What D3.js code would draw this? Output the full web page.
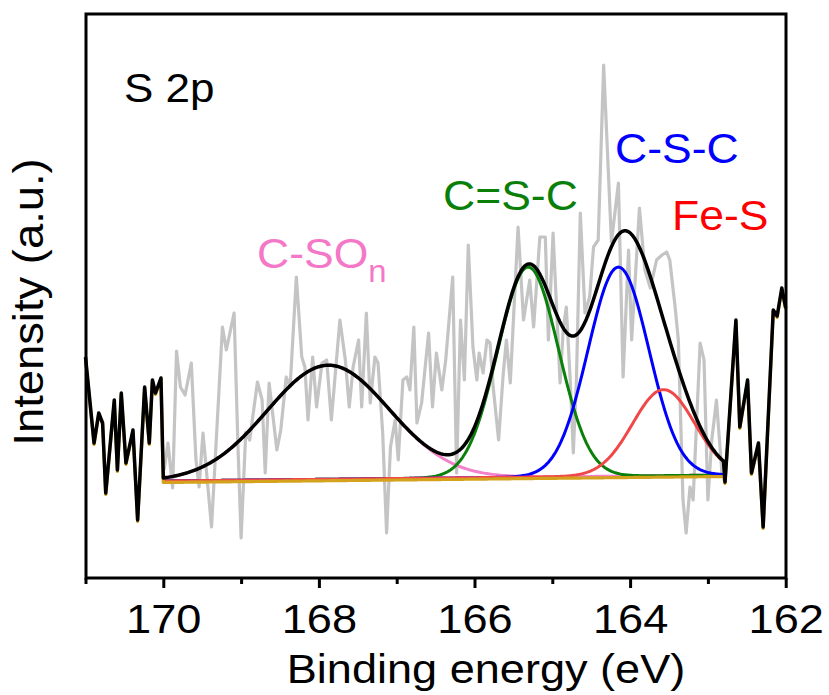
<!DOCTYPE html>
<html>
<head>
<meta charset="utf-8">
<script src="https://cdn.jsdelivr.net/npm/d3@7"></script>
<style>
    body { margin: 0; background: #fff; }
    text { font-family: Arial, "Liberation Sans", sans-serif; }
</style>
</head>
<body>
<div class="chart"></div>
<script>
// raw S 2p spectrum (binding energy in eV, intensity in a.u.)
const energy = [
    171.00, 170.89, 170.83, 170.78, 170.74, 170.63, 170.59, 170.54, 170.48, 170.39,
    170.33, 170.24, 170.18, 170.14, 170.10, 170.03, 169.99, 169.94, 169.88, 169.83,
    169.78, 169.72, 169.64, 169.58, 169.54, 169.49, 169.38, 169.24, 169.19, 169.09,
    169.04, 169.00, 168.94, 168.89, 168.79, 168.73, 168.69, 168.64, 168.54, 168.49,
    168.42, 168.37, 168.29, 168.22, 168.18, 168.14, 168.08, 168.03, 167.96, 167.90,
    167.84, 167.73, 167.66, 167.61, 167.56, 167.49, 167.45, 167.39, 167.34, 167.28,
    167.24, 167.18, 167.13, 167.08, 167.02, 166.98, 166.92, 166.87, 166.83, 166.78,
    166.74, 166.68, 166.59, 166.54, 166.49, 166.42, 166.37, 166.28, 166.23, 166.18,
    166.13, 166.08, 166.02, 165.97, 165.94, 165.89, 165.84, 165.80, 165.76, 165.69,
    165.63, 165.59, 165.54, 165.44, 165.37, 165.29, 165.24, 165.16, 165.09, 165.05,
    164.99, 164.90, 164.86, 164.82, 164.77, 164.73, 164.69, 164.64, 164.58, 164.52,
    164.47, 164.41, 164.34, 164.24, 164.15, 164.09, 164.02, 163.98, 163.88, 163.81,
    163.74, 163.66, 163.59, 163.53, 163.49, 163.42, 163.38, 163.32, 163.28, 163.23,
    163.19, 163.10, 163.05, 163.00, 162.95, 162.89, 162.82, 162.78, 162.64, 162.59,
    162.49, 162.44, 162.35, 162.29, 162.16, 162.11, 162.05, 162.00
];
const intensity = [
    221, 135, 165, 155, 85, 178, 108, 185, 115, 148,
    58, 191, 135, 198, 185, 200, 108, 135, 90, 227,
    191, 183, 215, 118, 91, 145, 51, 251, 228, 265,
    131, 40, 146, 138, 196, 178, 105, 195, 128, 148,
    201, 191, 301, 221, 211, 158, 221, 171, 215, 218,
    158, 258, 218, 171, 211, 238, 171, 265, 175, 221,
    215, 145, 45, 131, 158, 118, 198, 201, 188, 251,
    155, 175, 245, 171, 225, 188, 218, 301, 105, 258,
    198, 333, 231, 198, 225, 205, 238, 235, 191, 138,
    205, 238, 195, 351, 258, 298, 251, 341, 341, 238,
    345, 195, 248, 271, 198, 125, 198, 365, 265, 281,
    331, 338, 513, 336, 395, 201, 328, 238, 370, 308,
    290, 318, 323, 326, 318, 270, 238, 78, 45, 91,
    78, 235, 218, 78, 138, 178, 105, 96, 258, 151,
    198, 105, 135, 51, 268, 262, 290, 270
];

// fitted components (Gaussian)
const peakNames = ["C-SO", "C=S-C", "C-S-C", "Fe-S"];
const peakCenters = [167.88, 165.31, 164.15, 163.57];
const peakFwhm = [1.85, 0.92, 0.92, 0.94];
const peakHeights = [114, 210, 209, 86];

// fit window and linear background at its two ends
const fitRange = [170.0, 162.8];
const backgroundEnds = [97, 103];

// x axis ticks
const majorTicks = [170, 168, 166, 164, 162];
const minorTicks = [171, 169, 167, 165, 163];

const width = 829;
const height = 695;
const colors = {
    raw: "#c4c4c4",
    background: "#d4a21c",
    fit: "#000",
    peaks: ["#f482cb", "#0a800a", "#0000ff", "#f04848"],
    labels: ["#f477c8", "#0a800a", "#0000ff", "#ff0000"]
};

const svg = d3.select(".chart")
    .append("svg")
    .attr("width", width)
    .attr("height", height);

const x = d3.scaleLinear().domain([171, 162]).range([85.5, 785.7]);
const y = d3.scaleLinear().domain([0, 564]).range([578, 14]);

const raw = energy.map((e, i) => ({ e: e, v: intensity[i] }));
const inFit = raw.filter(d => d.e <= fitRange[0] && d.e >= fitRange[1]);
const leftOut = raw.filter(d => d.e > fitRange[0]);
const rightOut = raw.filter(d => d.e < fitRange[1]);

function background(e) {
    const t = (fitRange[0] - e) / (fitRange[0] - fitRange[1]);
    return backgroundEnds[0] + t * (backgroundEnds[1] - backgroundEnds[0]);
}
function gauss(e, i) {
    const dx = e - peakCenters[i];
    return peakHeights[i] * Math.exp(-4 * Math.LN2 * dx * dx / (peakFwhm[i] * peakFwhm[i]));
}

const n = 400;
const grid = d3.range(n + 1).map(i => fitRange[0] - i * (fitRange[0] - fitRange[1]) / n);

const line = d3.line().x(d => x(d.e)).y(d => y(d.v));

// raw data inside the fit window
svg.append("path")
    .attr("d", line(inFit))
    .attr("fill", "none")
    .attr("stroke", colors.raw)
    .attr("stroke-width", 3.2)
    .attr("stroke-linejoin", "round");

// components
peakNames.forEach((name, i) => {
    const pts = grid.map(e => ({ e: e, v: background(e) + gauss(e, i) }));
    svg.append("path")
        .attr("d", line(pts))
        .attr("fill", "none")
        .attr("stroke", colors.peaks[i])
        .attr("stroke-width", 3);
});

// background (outside the window it follows the data)
const bgPts = leftOut.concat(grid.map(e => ({ e: e, v: background(e) })), rightOut);
svg.append("path")
    .attr("d", line(bgPts))
    .attr("transform", "translate(0,1.5)")
    .attr("fill", "none")
    .attr("stroke", colors.background)
    .attr("stroke-width", 3.2)
    .attr("stroke-linejoin", "round");

// cumulative fit
const envelope = grid.map(e => ({
    e: e,
    v: background(e) + d3.sum(peakNames, (nm, i) => gauss(e, i))
}));
svg.append("path")
    .attr("d", line(leftOut.concat(envelope, rightOut)))
    .attr("fill", "none")
    .attr("stroke", colors.fit)
    .attr("stroke-width", 3.5)
    .attr("stroke-linejoin", "round");

// frame
svg.append("rect")
    .attr("x", 86).attr("y", 14)
    .attr("width", 700).attr("height", 564)
    .attr("fill", "none")
    .attr("stroke", "#000")
    .attr("stroke-width", 3);

// x axis
const axis = svg.append("g")
    .attr("transform", `translate(0, 578)`)
    .call(d3.axisBottom(x).tickValues(majorTicks).tickSize(10).tickSizeOuter(0).tickFormat(d3.format("d")));
axis.select(".domain").remove();
axis.selectAll(".tick line").attr("stroke", "#000").attr("stroke-width", 3);
axis.selectAll(".tick text")
    .attr("y", 55)
    .attr("dy", null)
    .attr("font-size", 40)
    .attr("font-family", "Arial, 'Liberation Sans', sans-serif")
    .attr("fill", "#000")
    .attr("transform", "scale(1.13,1)");

const minor = svg.append("g")
    .attr("transform", `translate(0, 578)`)
    .call(d3.axisBottom(x).tickValues(minorTicks).tickSize(6).tickSizeOuter(0).tickFormat(""));
minor.select(".domain").remove();
minor.selectAll(".tick line").attr("stroke", "#000").attr("stroke-width", 3);

// text helper: horizontally widened glyphs like the original figure
function addText(str, px, py, size, sx, color, anchor, rotate) {
    const g = svg.append("g")
        .attr("transform", `translate(${px},${py}) rotate(${rotate || 0}) scale(${sx},1)`);
    return g.append("text")
        .attr("font-size", size)
        .attr("fill", color)
        .attr("text-anchor", anchor)
        .text(str);
}

addText("Binding energy (eV)", 486, 683, 41, 1.1, "#000", "middle");
addText("Intensity (a.u.)", 43, 302, 42, 1.08, "#000", "middle", -90);
addText("S 2p", 124, 102, 40, 1.1, "#000", "start");

const labelPos = [[257, 268], [443, 210], [615, 163], [672, 230]];
peakNames.forEach((name, i) => {
    const t = addText(name, labelPos[i][0], labelPos[i][1], 42, 1.06, colors.labels[i], "start");
    if (i === 0) {
        t.append("tspan").attr("dy", 14).attr("font-size", 31).text("n");
    }
});
</script>
</body>
</html>
